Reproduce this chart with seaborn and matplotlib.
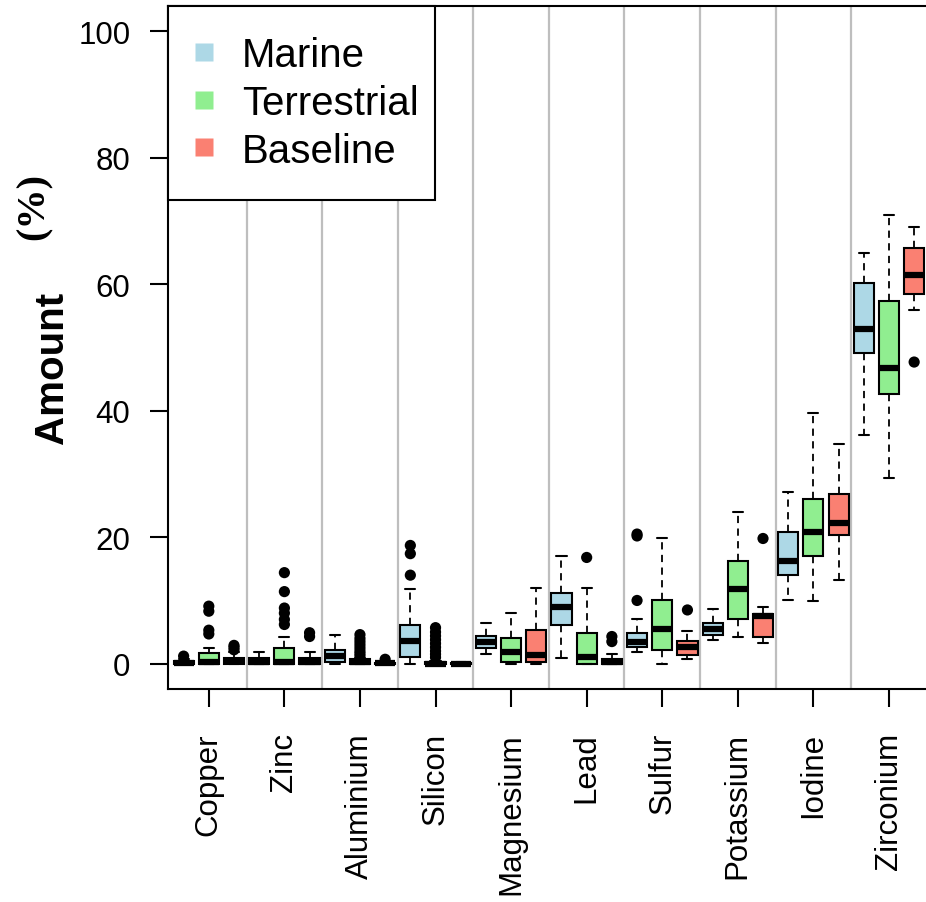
import numpy as np
import pandas as pd
import matplotlib
matplotlib.use("Agg")
import matplotlib.pyplot as plt
from matplotlib.lines import Line2D
import seaborn as sns

# ---------------- data ----------------
elements = ["Copper", "Zinc", "Aluminium", "Silicon", "Magnesium",
            "Lead", "Sulfur", "Potassium", "Iodine", "Zirconium"]
groups = ["Marine", "Terrestrial", "Baseline"]
colors = ["#ADD8E6", "#90EE90", "#FA8072"]

# five-number summaries: lower whisker, Q1, median, Q3, upper whisker
marine_lo  = [0.0, 0.0, 0.0, 0.0, 1.5, 0.9, 1.8, 3.7, 10.1, 36.2]
marine_q1  = [0.0, 0.0, 0.3, 1.1, 2.5, 6.1, 2.6, 4.5, 14.0, 49.2]
marine_med = [0.15, 0.3, 1.2, 3.6, 3.5, 9.0, 3.4, 5.5, 16.2, 52.9]
marine_q3  = [0.5, 0.9, 2.1, 6.1, 4.4, 11.2, 4.9, 6.5, 20.9, 60.2]
marine_hi  = [0.8, 1.8, 4.5, 11.8, 6.5, 17.1, 7.0, 8.7, 27.2, 65.0]

terr_lo  = [0.0, 0.0, 0.0, 0.0, 0.0, 0.0, 0.0, 4.3, 9.9, 29.4]
terr_q1  = [0.0, 0.0, 0.0, 0.0, 0.3, 0.0, 2.1, 7.0, 17.0, 42.7]
terr_med = [0.2, 0.3, 0.3, 0.0, 1.9, 1.0, 5.5, 11.8, 20.8, 46.8]
terr_q3  = [1.7, 2.5, 0.8, 0.2, 4.1, 4.9, 10.1, 16.2, 26.0, 57.3]
terr_hi  = [2.5, 4.3, 0.9, 0.4, 8.0, 12.0, 19.9, 24.0, 39.7, 70.9]

base_lo  = [0.0, 0.0, 0.0, 0.0, 0.0, 0.0, 0.8, 3.3, 13.2, 55.9]
base_q1  = [0.0, 0.0, 0.0, 0.0, 0.3, 0.0, 1.3, 4.2, 20.3, 58.5]
base_med = [0.4, 0.25, 0.05, 0.0, 1.3, 0.3, 2.6, 7.5, 22.3, 61.4]
base_q3  = [0.9, 0.9, 0.15, 0.1, 5.3, 0.8, 3.6, 7.8, 26.8, 65.8]
base_hi  = [1.8, 1.8, 0.3, 0.2, 11.9, 1.6, 5.2, 9.0, 34.7, 69.1]

# outliers per element
marine_out = [[1.2], [], [], [18.7, 17.4, 14.0], [], [], [20.5, 20.2, 10.0], [], [], []]
terr_out = [[9.1, 8.3, 5.3, 4.7], [14.4, 11.4, 8.8, 8.0, 7.0, 6.2],
            [4.6, 4.0, 3.5, 3.0, 2.5, 2.0, 1.6, 1.2],
            [5.7, 5.0, 4.4, 3.8, 3.2, 2.6, 2.0, 1.5, 1.0],
            [], [16.8], [], [], [], []]
base_out = [[2.9, 2.6, 2.2], [4.9, 4.3], [0.7], [], [], [4.3, 3.5], [8.5], [19.8], [], [47.7]]

yticks = [0, 20, 40, 60, 80, 100]

# ---------------- build tables ----------------
summ = {
    "Marine": (marine_lo, marine_q1, marine_med, marine_q3, marine_hi),
    "Terrestrial": (terr_lo, terr_q1, terr_med, terr_q3, terr_hi),
    "Baseline": (base_lo, base_q1, base_med, base_q3, base_hi),
}
rows = []
for g in groups:
    cols = summ[g]
    for i, el in enumerate(elements):
        for arr in cols:
            rows.append({"Element": el, "Group": g, "Amount": arr[i]})
df = pd.DataFrame(rows)

outs = {"Marine": marine_out, "Terrestrial": terr_out, "Baseline": base_out}
box_width = 1.0
orows = []
for j, g in enumerate(groups):
    for i, el in enumerate(elements):
        for v in outs[g][i]:
            orows.append({"pos": i + (j - 1) * box_width / len(groups), "Amount": v, "Group": g})
odf = pd.DataFrame(orows)

# ---------------- plotting ----------------
sns.set_theme(style="white")
plt.rcParams["font.family"] = ["Liberation Sans", "DejaVu Sans"]
plt.rcParams["text.color"] = "black"
plt.rcParams["axes.labelcolor"] = "black"

fig = plt.figure(figsize=(9.26, 9.03), dpi=100)
ax_w = (927.5 - 168) / 926
ax = fig.add_axes([168 / 926, 1 - 690 / 903, ax_w, (690 - 7) / 903])

for i in range(len(elements) - 1):
    ax.axvline(i + 0.5, color="#BEBEBE", lw=1.6, zorder=0)

sns.boxplot(data=df, x="Element", y="Amount", hue="Group", order=elements,
            hue_order=groups, palette=colors, saturation=1, width=box_width,
            gap=0.2, whis=(0, 100), showfliers=False, linecolor="black",
            linewidth=1.5, legend=False, ax=ax,
            medianprops=dict(linewidth=4.5, color="black"),
            whiskerprops=dict(linestyle=(0, (4, 3)), linewidth=1.3),
            capprops=dict(linewidth=1.5))

sns.scatterplot(data=odf, x="pos", y="Amount", color="black", s=65,
                edgecolor="none", legend=False, ax=ax, zorder=5)

ax.set_xlim(-0.54, len(elements) - 0.49)
ax.set_ylim(-4, 104)
ax.set_yticks(yticks)
ax.set_yticklabels([str(t) for t in yticks])
ax.set_xticks(range(len(elements)))
ax.set_xticklabels(elements, rotation=90)
ax.set_xlabel("")
ax.set_ylabel("")
ax.tick_params(axis="both", direction="out", length=13, width=1.5, color="black",
               labelsize=22.5, labelcolor="black")
ax.tick_params(axis="y", pad=14)
ax.tick_params(axis="x", pad=18)
ax.tick_params(left=True, bottom=True)
for s in ax.spines.values():
    s.set_visible(True)
    s.set_color("black")
    s.set_linewidth(1.5)

handles = [Line2D([0], [0], marker="s", linestyle="none", markersize=13.5,
                  markerfacecolor=c, markeredgecolor="none") for c in colors]
leg_w = (435 - 168) / (ax_w * 926)
leg = ax.legend(handles, groups, loc="upper left", bbox_to_anchor=(0, 0, leg_w, 1),
                mode="expand", borderaxespad=0, fontsize=29, frameon=True,
                fancybox=False, edgecolor="black", framealpha=1, borderpad=0.75,
                handlelength=0.3, handletextpad=0.78, labelspacing=0.24)
leg.get_frame().set_linewidth(1.5)
leg.set_zorder(10)
for t in leg.get_texts():
    t.set_color("black")

fig.text(52 / 926, 1 - 368 / 903, "Amount", rotation=90, fontsize=29,
         fontweight="bold", ha="center", va="center", color="black")
fig.text(34 / 926, 1 - 207 / 903, "(%)", rotation=90, fontsize=29,
         fontweight="bold", ha="center", va="center", color="black",
         family=["Liberation Serif", "DejaVu Serif"])

fig.savefig("out.png", dpi=100)
